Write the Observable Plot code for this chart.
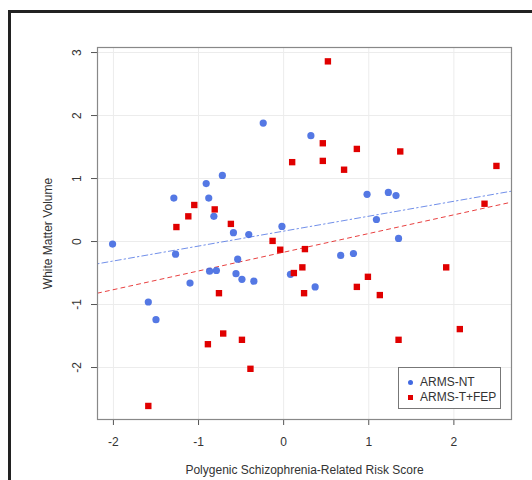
<!DOCTYPE html>
<html>
<head>
<meta charset="utf-8">
<script src="https://cdn.jsdelivr.net/npm/d3@7"></script>
<script src="https://cdn.jsdelivr.net/npm/@observablehq/plot@0.6"></script>
<style>
  html, body { margin: 0; padding: 0; background: #fff; overflow: hidden; }
  #wrap { position: relative; width: 532px; height: 480px; font-family: "Liberation Sans", Arial, sans-serif; }
  #outer { position: absolute; left: 8px; top: 10px; width: 700px; height: 700px; border: 3px solid #222; box-sizing: border-box; }
  #chart { position: absolute; left: 0; top: 0; }
  #legend { position: absolute; left: 398px; top: 367px; width: 103px; height: 42px; border: 1px solid #777; background: #fff; box-sizing: border-box; font-size: 12px; color: #333; }
  .item { position: absolute; left: 0; height: 14px; line-height: 14px; }
  .item span.m { position: absolute; }
  .item span.t { position: absolute; left: 21px; white-space: nowrap; }
</style>
</head>
<body>
<div id="wrap">
  <div id="outer"></div>
  <div id="chart"></div>
  <div id="legend"></div>
</div>
<script>
// ---- data ----
const groups = ["ARMS-NT", "ARMS-T+FEP"];
const groupColors = ["#4169E1", "#E00000"];
const groupSymbols = ["circle", "square"];

const ntX = [-2.01, -1.29, -1.27, -1.59, -1.50, -1.10, -0.91, -0.88, -0.72, -0.82, -0.87, -0.79, -0.59, -0.41, -0.54, -0.56, -0.49, -0.35, -0.24, -0.02, 0.08, 0.32, 0.37, 0.67, 0.82, 0.98, 1.09, 1.23, 1.32, 1.35];
const ntY = [-0.04, 0.69, -0.20, -0.96, -1.24, -0.66, 0.92, 0.69, 1.05, 0.40, -0.47, -0.46, 0.14, 0.11, -0.28, -0.51, -0.60, -0.63, 1.88, 0.24, -0.52, 1.68, -0.72, -0.22, -0.19, 0.75, 0.35, 0.78, 0.73, 0.05];

const tfX = [-1.59, -1.26, -1.12, -1.05, -0.81, -0.76, -0.89, -0.71, -0.62, -0.49, -0.39, -0.13, -0.04, 0.10, 0.12, 0.22, 0.25, 0.24, 0.52, 0.46, 0.46, 0.71, 0.86, 0.86, 0.99, 1.13, 1.37, 1.35, 1.91, 2.07, 2.36, 2.50];
const tfY = [-2.61, 0.23, 0.40, 0.58, 0.51, -0.82, -1.63, -1.46, 0.28, -1.56, -2.02, 0.01, -0.13, 1.26, -0.50, -0.41, -0.12, -0.82, 2.86, 1.56, 1.28, 1.14, 1.47, -0.72, -0.56, -0.85, 1.43, -1.56, -0.41, -1.39, 0.60, 1.20];

// fitted regression lines (intercept, slope) per group
const lineIntercept = [0.165, -0.170];
const lineSlope = [0.237, 0.297];

const xTicks = [-2, -1, 0, 1, 2];
const yTicks = [-2, -1, 0, 1, 2, 3];
const xDomain = [-2.187, 2.677];
const yDomain = [-2.825, 3.08];

const xTitle = "Polygenic Schizophrenia-Related Risk Score";
const yTitle = "White Matter Volume";

// ---- build tables ----
const points = [
  ...ntX.map((x, i) => ({x, y: ntY[i], g: groups[0]})),
  ...tfX.map((x, i) => ({x, y: tfY[i], g: groups[1]}))
];
const fitLines = groups.flatMap((g, i) =>
  xDomain.map(x => ({x, y: lineIntercept[i] + lineSlope[i] * x, g}))
);

const textColor = "#333";
const chart = Plot.plot({
  width: 532,
  height: 480,
  marginLeft: 97,
  marginRight: 21,
  marginTop: 47,
  marginBottom: 61,
  style: {fontFamily: "'Liberation Sans', Arial, sans-serif", fontSize: "12px", color: textColor, background: "transparent"},
  x: {domain: xDomain, axis: null},
  y: {domain: yDomain, axis: null},
  color: {domain: groups, range: groupColors},
  symbol: {domain: groups, range: groupSymbols},
  marks: [
    Plot.gridX(xTicks, {stroke: "#ececec", strokeOpacity: 1}),
    Plot.gridY(yTicks, {stroke: "#ececec", strokeOpacity: 1}),
    Plot.axisX({ticks: xTicks, tickSize: 6, tickFormat: () => "", stroke: "#555", label: null}),
    Plot.axisY({ticks: yTicks, tickSize: 6, tickFormat: () => "", stroke: "#555", label: null}),
    Plot.text(xTicks, {x: d => d, frameAnchor: "bottom", dy: 23, lineAnchor: "middle", fill: textColor, fontSize: 12}),
    Plot.text(yTicks, {y: d => d, frameAnchor: "left", dx: -20, rotate: -90, textAnchor: "middle", lineAnchor: "middle", fill: textColor, fontSize: 12}),
    Plot.text([xTitle], {frameAnchor: "bottom", dy: 51, lineAnchor: "middle", fill: textColor, fontSize: 12}),
    Plot.text([yTitle], {frameAnchor: "left", dx: -49.5, rotate: -90, textAnchor: "middle", lineAnchor: "middle", fill: textColor, fontSize: 12}),
    Plot.line(fitLines.filter(d => d.g === groups[0]), {x: "x", y: "y", stroke: groupColors[0], strokeOpacity: 0.75, strokeWidth: 1, strokeDasharray: "1.5,3,6,3"}),
    Plot.line(fitLines.filter(d => d.g === groups[1]), {x: "x", y: "y", stroke: groupColors[1], strokeOpacity: 0.75, strokeWidth: 1, strokeDasharray: "4,4"}),
    Plot.dot(points.filter(d => d.g === groups[0]), {x: "x", y: "y", fill: groupColors[0], symbol: "circle", r: 3.6, fillOpacity: 0.9}),
    Plot.dot(points.filter(d => d.g === groups[1]), {x: "x", y: "y", fill: groupColors[1], symbol: "square", r: 3.6}),
    Plot.frame({stroke: "#888", strokeWidth: 1.2})
  ]
});
document.getElementById("chart").appendChild(chart);

// legend
const legend = document.getElementById("legend");
groups.forEach((g, i) => {
  const item = document.createElement("div");
  item.className = "item";
  item.style.top = (7 + i * 15) + "px";
  const m = document.createElement("span");
  m.className = "m";
  const size = 5;
  m.style.width = size + "px";
  m.style.height = size + "px";
  m.style.left = (11 - size / 2) + "px";
  m.style.top = (7 - size / 2) + "px";
  m.style.background = groupColors[i];
  if (groupSymbols[i] === "circle") m.style.borderRadius = "50%";
  const t = document.createElement("span");
  t.className = "t";
  t.textContent = g;
  item.appendChild(m);
  item.appendChild(t);
  legend.appendChild(item);
});
</script>
</body>
</html>
